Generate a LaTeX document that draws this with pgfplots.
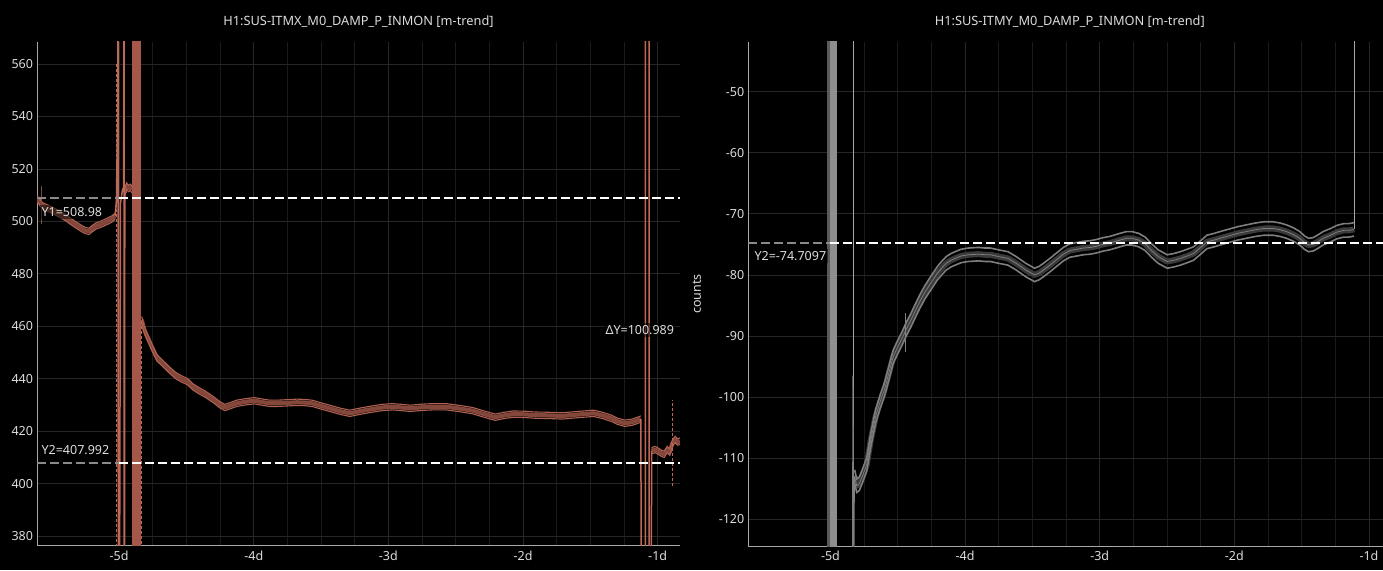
\documentclass[border=0pt]{standalone}
\usepackage{pgfplots}
\usepackage{pgfplotstable}
\pgfplotsset{compat=1.18}
\usepackage{fontspec}
\setmainfont{Noto Sans}

\definecolor{gridmaj}{HTML}{262626}
\definecolor{gridmin}{HTML}{1B1B1B}
\definecolor{spine}{HTML}{A8A8A8}
\definecolor{txt}{HTML}{DCDCDC}
\definecolor{salmonA}{RGB}{132,71,59}
\definecolor{salmonB}{RGB}{176,97,81}
\definecolor{salmonS}{RGB}{190,104,88}
\definecolor{salmonF}{RGB}{165,88,74}
\definecolor{grayA}{HTML}{3A3A3A}
\definecolor{grayB}{HTML}{7E7E7E}
\definecolor{grayF}{HTML}{8E8E8E}
\definecolor{grayD}{HTML}{5A5A5A}
\definecolor{grayL}{HTML}{A6A6A6}
\definecolor{curgray}{HTML}{8A8A8A}

\newcommand{\lblfont}{\fontsize{12.5}{15}\selectfont}
\newcommand{\ttlfont}{\fontsize{12.8}{15}\selectfont}

\pgfplotsset{
  ligo/.style={
    scale only axis,
    width=643pt, height=504pt,
    xmin=-5.61, xmax=-0.834,
    axis x line*=bottom, axis y line*=left,
    axis line style={-, spine, line width=1pt},
    major tick length=0pt, minor tick length=0pt,
    xtick={-5,-4,-3,-2,-1},
    xticklabels={-5d,-4d,-3d,-2d,-1d},
    minor x tick num=3,
    grid=both,
    major grid style={gridmaj, line width=0.8pt},
    minor grid style={gridmin, line width=0.8pt},
    tick label style={font=\lblfont, text=txt},
    /pgf/number format/assume math mode=true,
    yticklabel style={xshift=-0.5pt},
    xticklabel style={yshift=-1pt},
    title style={font=\ttlfont, text=txt, at={(axis description cs:0.5,1)}, anchor=base, yshift=10pt},
    ylabel style={font=\lblfont, text=txt},
    clip=true,
  },
  salband/.style={salmonA, line width=4.2pt, line join=round},
  saledge/.style={salmonB, line width=1.1pt},
}

% ---- left panel data (mean values) ----
\pgfplotstableread{
x y
-5.610 508.5
-5.595 507.8
-5.585 507.0
-5.570 506.0
-5.550 505.5
-5.520 504.8
-5.480 503.8
-5.440 502.7
-5.400 501.5
-5.360 500.0
-5.320 498.6
-5.280 497.3
-5.250 496.5
-5.224 496.2
-5.200 497.2
-5.170 498.3
-5.140 498.8
-5.110 499.5
-5.080 500.2
-5.050 501.0
-5.030 502.0
}\LA
\pgfplotstableread{
x y
-4.958 511.0
-4.945 513.5
-4.930 512.5
-4.915 513.0
-4.905 512.0
}\LB
\pgfplotstableread{
x y
-4.832 462.5
-4.815 459.0
-4.800 457.0
-4.758 452.2
-4.720 448.0
-4.680 446.0
-4.626 443.3
-4.580 441.2
-4.540 440.0
-4.493 438.9
-4.450 436.8
-4.400 435.2
-4.363 434.2
-4.300 432.0
-4.250 430.0
-4.214 429.0
-4.170 429.8
-4.128 430.6
-4.060 431.2
-3.995 431.6
-3.930 431.0
-3.880 430.6
-3.830 430.6
-3.750 430.8
-3.680 431.0
-3.620 430.9
-3.565 430.6
-3.500 429.6
-3.435 428.7
-3.360 427.6
-3.286 426.8
-3.210 427.6
-3.134 428.3
-3.050 429.0
-2.968 429.3
-2.900 429.0
-2.836 428.7
-2.750 429.1
-2.670 429.3
-2.571 429.3
-2.470 428.6
-2.373 427.8
-2.290 426.5
-2.206 425.3
-2.140 426.0
-2.073 426.5
-1.990 426.4
-1.908 426.1
-1.810 426.0
-1.709 425.8
-1.600 426.3
-1.476 426.8
-1.410 426.0
-1.344 424.9
-1.300 423.8
-1.245 423.0
-1.190 423.4
-1.145 424.2
-1.125 424.6
}\LC
\pgfplotstableread{
x y
-1.045 412.5
-1.020 413.0
-1.000 412.5
-0.970 411.5
-0.950 411.2
-0.930 413.0
-0.910 412.0
-0.890 415.5
-0.870 416.8
-0.850 415.8
-0.834 416.2
}\LD

% ---- right panel data (mean values) ----
\pgfplotstableread{
x y
-4.820 -113.0
-4.805 -114.5
-4.786 -114.2
-4.760 -112.8
-4.730 -111.0
-4.700 -107.0
-4.665 -103.2
-4.630 -100.7
-4.599 -98.8
-4.565 -96.0
-4.534 -93.4
-4.500 -91.8
-4.468 -90.4
-4.435 -88.8
-4.402 -87.4
-4.370 -85.9
-4.337 -84.4
-4.300 -82.9
-4.271 -81.9
-4.238 -80.8
-4.205 -79.7
-4.170 -78.8
-4.140 -78.1
-4.105 -77.6
-4.074 -77.3
-4.030 -76.9
-3.976 -76.7
-3.900 -76.6
-3.850 -76.7
-3.812 -76.7
-3.750 -77.0
-3.681 -77.3
-3.620 -78.1
-3.549 -79.2
-3.484 -80.0
-3.450 -79.7
-3.418 -79.2
-3.370 -78.4
-3.320 -77.5
-3.270 -76.6
-3.221 -76.0
-3.170 -75.8
-3.122 -75.6
-3.070 -75.5
-3.024 -75.3
-2.975 -75.0
-2.926 -74.8
-2.850 -74.3
-2.800 -74.0
-2.761 -74.0
-2.710 -74.3
-2.663 -74.9
-2.615 -76.0
-2.565 -77.0
-2.499 -77.8
-2.450 -77.6
-2.401 -77.3
-2.350 -76.9
-2.303 -76.5
-2.250 -75.5
-2.204 -74.6
-2.150 -74.3
-2.105 -74.0
-2.040 -73.6
-1.975 -73.2
-1.910 -72.9
-1.843 -72.6
-1.780 -72.4
-1.712 -72.4
-1.660 -72.6
-1.613 -72.9
-1.560 -73.4
-1.514 -74.0
-1.480 -74.7
-1.449 -75.1
-1.415 -75.0
-1.383 -74.6
-1.340 -74.0
-1.285 -73.5
-1.240 -73.0
-1.187 -72.7
-1.150 -72.7
-1.121 -72.6
-1.112 -72.5
}\RA

\begin{document}
\begin{tikzpicture}
\fill[black] (0pt,0pt) rectangle (1383pt,570pt);
\useasboundingbox (0pt,0pt) rectangle (1383pt,570pt);

% ================= LEFT =================
\begin{axis}[ligo,
  at={(37pt,24pt)}, anchor=south west,
  ymin=376.2, ymax=568.4,
  ytick={380,400,...,560},
  title={H1:SUS-ITMX\_M0\_DAMP\_P\_INMON [m-trend]},
]
% thick trend bands
\addplot[salband] table[x=x,y=y] {\LA};
\addplot[saledge] table[x=x,y expr=\thisrow{y}+1.2] {\LA};
\addplot[saledge] table[x=x,y expr=\thisrow{y}-1.2] {\LA};
\addplot[salband] table[x=x,y=y] {\LB};
\addplot[saledge] table[x=x,y expr=\thisrow{y}+1.2] {\LB};
\addplot[saledge] table[x=x,y expr=\thisrow{y}-1.2] {\LB};
\addplot[salband] table[x=x,y=y] {\LC};
\addplot[saledge] table[x=x,y expr=\thisrow{y}+1.2] {\LC};
\addplot[saledge] table[x=x,y expr=\thisrow{y}-1.2] {\LC};
\addplot[salband] table[x=x,y=y] {\LD};
\addplot[saledge] table[x=x,y expr=\thisrow{y}+1.2] {\LD};
\addplot[saledge] table[x=x,y expr=\thisrow{y}-1.2] {\LD};
% glitch band (-4.902 .. -4.836)
\addplot[salmonF, line width=8.9pt] coordinates {(-4.869,330) (-4.869,620)};
% spikes
\addplot[salmonA, line width=0.9pt] coordinates {(-5.578,499) (-5.578,513.5)};
\addplot[salmonS, line width=1.5pt] coordinates {
 (-5.030,502) (-5.020,508) (-5.014,530) (-5.010,545) (-5.008,620) (-5.006,330)
 (-4.998,330) (-4.990,507) (-4.975,512) (-4.966,513) (-4.964,620) (-4.962,330)
 (-4.960,330) (-4.958,511)};
\addplot[salmonS, line width=1pt, densely dashed] coordinates {(-5.018,330) (-5.018,560)};
\addplot[salmonS, line width=1pt, densely dashed] coordinates {(-4.832,462) (-4.832,330)};
\addplot[salmonS, line width=1.5pt] coordinates {
 (-1.125,424.6) (-1.120,330) (-1.091,330) (-1.091,620) (-1.063,620) (-1.063,330)
 (-1.048,330) (-1.045,412.5)};
\addplot[salmonS, line width=0.8pt, densely dashed] coordinates {(-0.888,399) (-0.888,432)};
% cursors
\addplot[curgray, line width=2pt, dash pattern=on 9pt off 4pt] coordinates {(-5.61,508.98) (-5.0,508.98)};
\addplot[white, line width=2pt, dash pattern=on 9pt off 4pt] coordinates {(-5.0,508.98) (-0.834,508.98)};
\addplot[curgray, line width=2pt, dash pattern=on 9pt off 4pt] coordinates {(-5.61,407.992) (-5.0,407.992)};
\addplot[white, line width=2pt, dash pattern=on 9pt off 4pt] coordinates {(-5.0,407.992) (-0.834,407.992)};
\node[anchor=west, font=\lblfont, text=txt, fill=black, fill opacity=0.5, text opacity=1, inner sep=2pt] at (axis cs:-5.592,503.6) {Y1=508.98};
\node[anchor=west, font=\lblfont, text=txt, fill=black, fill opacity=0.5, text opacity=1, inner sep=2pt] at (axis cs:-5.592,412.6) {Y2=407.992};
\node[anchor=east, font=\lblfont, text=txt, fill=black, fill opacity=0.5, text opacity=1, inner sep=2pt] at (axis cs:-0.862,458.6) {ΔY=100.989};
\end{axis}

% ================= RIGHT =================
\begin{axis}[ligo,
  at={(748.3pt,24pt)}, anchor=south west,
  ymin=-124.37, ymax=-41.87,
  ytick={-120,-110,...,-50},
  title={H1:SUS-ITMY\_M0\_DAMP\_P\_INMON [m-trend]},
  ylabel={counts},
  ylabel style={at={(axis description cs:-0.08,0.5)}, anchor=center},
]
% glitch band (-5.026 .. -4.954)
\addplot[grayD, line width=3pt] coordinates {(-5.013,-130) (-5.013,-30)};
\addplot[grayF, line width=6.5pt] coordinates {(-4.977,-130) (-4.977,-30)};
\addplot[grayL, line width=0.9pt] coordinates {(-4.830,-130) (-4.830,-30)};
\addplot[grayA, line width=6pt, line join=round] table[x=x,y=y] {\RA};
\addplot[grayB, line width=1.6pt] table[x=x,y expr=\thisrow{y}+1.1] {\RA};
\addplot[grayB, line width=1.6pt] table[x=x,y expr=\thisrow{y}-1.1] {\RA};
\addplot[grayB, line width=0.8pt] table[x=x,y=y] {\RA};
\addplot[grayB, line width=1pt] coordinates {(-4.836,-130) (-4.833,-96.5) (-4.829,-110) (-4.826,-128) (-4.822,-113) (-4.820,-113)};
\addplot[grayB, line width=0.8pt] coordinates {(-4.445,-86.2) (-4.445,-92.6)};
\addplot[grayL, line width=1pt] coordinates {(-1.111,-72.5) (-1.111,-30)};
\addplot[curgray, line width=2pt, dash pattern=on 9pt off 4pt] coordinates {(-5.61,-74.7097) (-5.0,-74.7097)};
\addplot[white, line width=2pt, dash pattern=on 9pt off 4pt] coordinates {(-5.0,-74.7097) (-0.834,-74.7097)};
\node[anchor=west, font=\lblfont, text=txt, fill=black, fill opacity=0.5, text opacity=1, inner sep=2pt] at (axis cs:-5.580,-76.9) {Y2=-74.7097};
\end{axis}
\end{tikzpicture}
\end{document}
